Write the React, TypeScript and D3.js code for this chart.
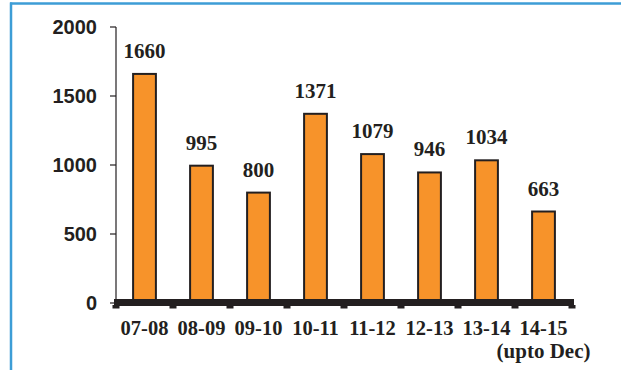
import React from "react";
import * as d3 from "d3";

const categories = ["07-08", "08-09", "09-10", "10-11", "11-12", "12-13", "13-14", "14-15"];
const subLabels = ["", "", "", "", "", "", "", "(upto Dec)"];
const values = [1660, 995, 800, 1371, 1079, 946, 1034, 663];
const yTicks = [0, 500, 1000, 1500, 2000];

const W = 621;
const H = 370;
const INK = "#231f20";
const ORANGE = "#f7932a";
const BLUE = "#3d9dd6";

export default function App() {
  const x = d3.scaleBand<string>().domain(categories).range([116, 572]).padding(0);
  const y = d3.scaleLinear().domain([0, 2000]).range([303, 27]);
  const barW = x.bandwidth() * 0.4;
  const boundaries = [...categories.map((c) => x(c) as number), 572];

  return (
    <svg
      width={W}
      height={H}
      style={{ position: "absolute", left: 0, top: 0, background: "#fff" }}
    >
      {/* frame */}
      <line x1={10} x2={W} y1={3.5} y2={3.5} stroke={BLUE} strokeWidth={2.5} />
      <line x1={11} x2={11} y1={2.5} y2={H} stroke={BLUE} strokeWidth={2.5} />

      {/* y axis */}
      <line x1={116} x2={116} y1={y(2000)} y2={y(0)} stroke={INK} strokeWidth={1.2} />
      {yTicks.map((t) => (
        <g key={t}>
          <line x1={110} x2={116} y1={y(t)} y2={y(t)} stroke={INK} strokeWidth={1.2} />
          <text
            x={97}
            y={y(t)}
            dy="0.36em"
            textAnchor="end"
            fontFamily="'Liberation Sans', Arial, sans-serif"
            fontWeight="bold"
            fontSize={20}
            fill={INK}
          >
            {t}
          </text>
        </g>
      ))}

      {/* bars */}
      {categories.map((c, i) => {
        const cx = (x(c) as number) + x.bandwidth() / 2;
        return (
          <g key={c}>
            <rect
              x={cx - barW / 2}
              y={y(values[i])}
              width={barW}
              height={y(0) - y(values[i])}
              fill={ORANGE}
              stroke={INK}
              strokeWidth={2}
            />
            <text
              x={cx}
              y={y(values[i]) - 16}
              textAnchor="middle"
              fontFamily="'Liberation Serif', 'Times New Roman', serif"
              fontWeight="bold"
              fontSize={21}
              fill={INK}
            >
              {values[i]}
            </text>
            <text
              x={cx}
              y={335}
              textAnchor="middle"
              fontFamily="'Liberation Serif', 'Times New Roman', serif"
              fontWeight="bold"
              fontSize={20.5}
              fill={INK}
            >
              {c}
            </text>
            {subLabels[i] && (
              <text
                x={cx}
                y={358}
                textAnchor="middle"
                fontFamily="'Liberation Serif', 'Times New Roman', serif"
                fontWeight="bold"
                fontSize={21}
                fill={INK}
              >
                {subLabels[i]}
              </text>
            )}
          </g>
        );
      })}

      {/* thick baseline */}
      <rect x={114} y={299} width={460} height={7} fill={INK} />
      {boundaries.map((b, i) => (
        <rect key={i} x={b - 3.5} y={305} width={7} height={3.5} fill={INK} />
      ))}
    </svg>
  );
}
